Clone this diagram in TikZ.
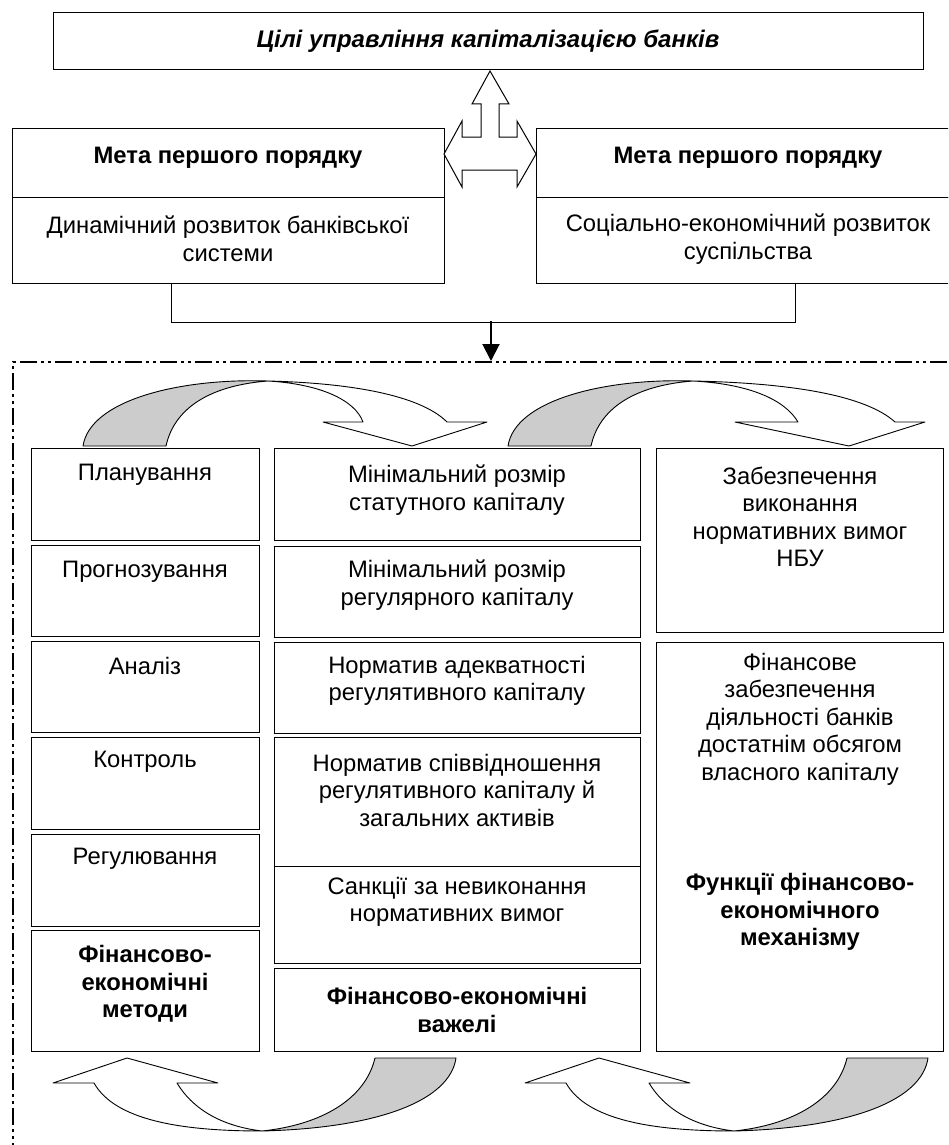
\documentclass[tikz,border=0pt]{standalone}
\usepackage{fontspec}
\setmainfont{Liberation Sans}
\usetikzlibrary{arrows.meta}
\definecolor{shade}{gray}{0.8}
\begin{document}
\begin{tikzpicture}[x=1pt,y=-1pt,
  box/.style={draw, line width=1.1pt, fill=white, inner sep=0pt, anchor=north west},
  txt/.style={align=center, inner sep=0pt, font=\fontsize{23.8}{27.5}\selectfont},
  btxt/.style={align=center, inner sep=0pt, font=\fontsize{23.8}{27.5}\selectfont\bfseries},
  curv/.style={draw, line width=0.9pt, line join=round},
  framestyle/.style={line width=2.6pt, dash pattern=on 17pt off 4pt on 3pt off 4pt on 3pt off 4pt},
  conn/.style={line width=1pt}
]
\clip (0,0) rectangle (948,1145);
\fill[white] (0,0) rectangle (948,1145);

% top box
\node[box, minimum width=870pt, minimum height=57pt] (top) at (53,12) {};
\node[font=\fontsize{24}{28}\selectfont\bfseries\itshape, inner sep=0pt] (title) at (488,41) {Цілі управління капіталізацією банків};

% goal boxes
\node[box, minimum width=432pt, minimum height=69pt] (lgt) at (12,128) {};
\node[box, minimum width=432pt, minimum height=86pt] (lgb) at (12,197) {};
\node[box, minimum width=424pt, minimum height=69pt] (rgt) at (536,128) {};
\node[box, minimum width=424pt, minimum height=86pt] (rgb) at (536,197) {};
\node[btxt] (lgtt) at (228,158) {Мета першого порядку};
\node[txt] (lgbt) at (228,239) {Динамічний розвиток банківської\\системи};
\node[btxt] (rgtt) at (748,158) {Мета першого порядку};
\node[txt] (rgbt) at (748,239) {Соціально-економічний розвиток\\суспільства};

% double arrow
\draw[line width=1pt, fill=white, line join=miter] (444,154) -- (462,121) -- (462,137) -- (481,137) -- (481,104) -- (472,104) -- (490,71) -- (509,104) -- (499,104) -- (499,137) -- (517,137) -- (517,121) -- (536,154) -- (517,187) -- (517,170) -- (462,170) -- (462,187) -- cycle;

% connector
\coordinate (cj) at (491,321);
\coordinate (ft) at (491,361);
\draw[conn] ([xshift=-57pt]lgb.south) -- ++(0,38) -| ([xshift=47pt]rgb.south);
\draw[line width=2pt, -{Triangle[length=17pt,width=17pt]}] (cj) -- (ft);

% dash-dot frame
\coordinate (f1) at (13,1160);
\coordinate (f2) at (13,362);
\coordinate (f3) at (960,362);
\draw[framestyle] (f1) -- (f2) -- (f3);

% top curved arrows
\draw[curv, fill=shade] (83,446) .. controls (90,400) and (180,378) .. (268,381) .. controls (215,385) and (175,405) .. (166,446) -- cycle;
\draw[curv, fill=white] (268,381) .. controls (350,383) and (420,395) .. (447,422) -- (487,422) -- (412,446) -- (323,422) -- (363,422) .. controls (355,400) and (320,384) .. (268,381) -- cycle;
\draw[curv, fill=shade] (508,446) .. controls (515,400) and (605,378) .. (693,381) .. controls (640,385) and (600,405) .. (591,446) -- cycle;
\draw[curv, fill=white] (693,381) .. controls (790,383) and (865,395) .. (895,422) -- (925,422) -- (849,446) -- (735,422) -- (798,422) .. controls (785,400) and (750,384) .. (693,381) -- cycle;

% bottom curved arrows
\draw[curv, fill=white] (94,1083) .. controls (115,1120) and (180,1131) .. (262,1131) .. controls (220,1126) and (192,1108) .. (177,1083) -- (218,1083) -- (127,1058) -- (53,1083) -- cycle;
\draw[curv, fill=shade] (262,1131) .. controls (380,1128) and (450,1100) .. (456,1058) -- (375,1058) .. controls (365,1100) and (320,1125) .. (262,1131) -- cycle;
\draw[curv, fill=white] (566,1083) .. controls (587,1120) and (652,1131) .. (734,1131) .. controls (692,1126) and (664,1108) .. (649,1083) -- (690,1083) -- (599,1058) -- (525,1083) -- cycle;
\draw[curv, fill=shade] (734,1131) .. controls (852,1128) and (922,1100) .. (928,1058) -- (847,1058) .. controls (837,1100) and (792,1125) .. (734,1131) -- cycle;

% left column
\node[box, minimum width=228pt, minimum height=92pt] (L1) at (31,448) {};
\node[box, minimum width=228pt, minimum height=91pt] (L2) at (31,545) {};
\node[box, minimum width=228pt, minimum height=91pt] (L3) at (31,641) {};
\node[box, minimum width=228pt, minimum height=92pt] (L4) at (31,737) {};
\node[box, minimum width=228pt, minimum height=92pt] (L5) at (31,834) {};
\node[box, minimum width=228pt, minimum height=121pt] (L6) at (31,930) {};
\node[txt] (tL1) at (145,475) {Планування};
\node[txt] (tL2) at (145,572) {Прогнозування};
\node[txt] (tL3) at (145,666) {Аналіз};
\node[txt] (tL4) at (145,762) {Контроль};
\node[txt] (tL5) at (145,859) {Регулювання};
\node[btxt] (tL6) at (145,984) {Фінансово-\\економічні\\методи};

% middle column
\node[box, minimum width=366pt, minimum height=92pt] (M1) at (274,448) {};
\node[box, minimum width=366pt, minimum height=91pt] (M2) at (274,546) {};
\node[box, minimum width=366pt, minimum height=91pt] (M3) at (274,642) {};
\node[box, minimum width=366pt, minimum height=129pt] (M4) at (274,737) {};
\node[box, minimum width=366pt, minimum height=97pt] (M5) at (274,866) {};
\node[box, minimum width=366pt, minimum height=83pt] (M6) at (274,968) {};
\node[txt] (tM1) at (457,490) {Мінімальний розмір\\статутного капіталу};
\node[txt] (tM2) at (457,585) {Мінімальний розмір\\регулярного капіталу};
\node[txt] (tM3) at (457,681) {Норматив адекватності\\регулятивного капіталу};
\node[txt] (tM4) at (457,790) {Норматив співвідношення\\регулятивного капіталу й\\загальних активів};
\node[txt] (tM5) at (457,902) {Санкції за невиконання\\нормативних вимог};
\node[btxt] (tM6) at (457,1010) {Фінансово-економічні\\важелі};

% right column
\node[box, minimum width=287pt, minimum height=184pt] (R1) at (656,448) {};
\node[box, minimum width=287pt, minimum height=409pt] (R2) at (656,642) {};
\node[txt] (tR1) at (800,517) {Забезпечення\\виконання\\нормативних вимог\\НБУ};
\node[txt] (tR2) at (800,719) {Фінансове\\забезпечення\\діяльності банків\\достатнім обсягом\\власного капіталу};
\node[btxt] (tR3) at (800,912) {Функції фінансово-\\економічного\\механізму};
\end{tikzpicture}
\end{document}
